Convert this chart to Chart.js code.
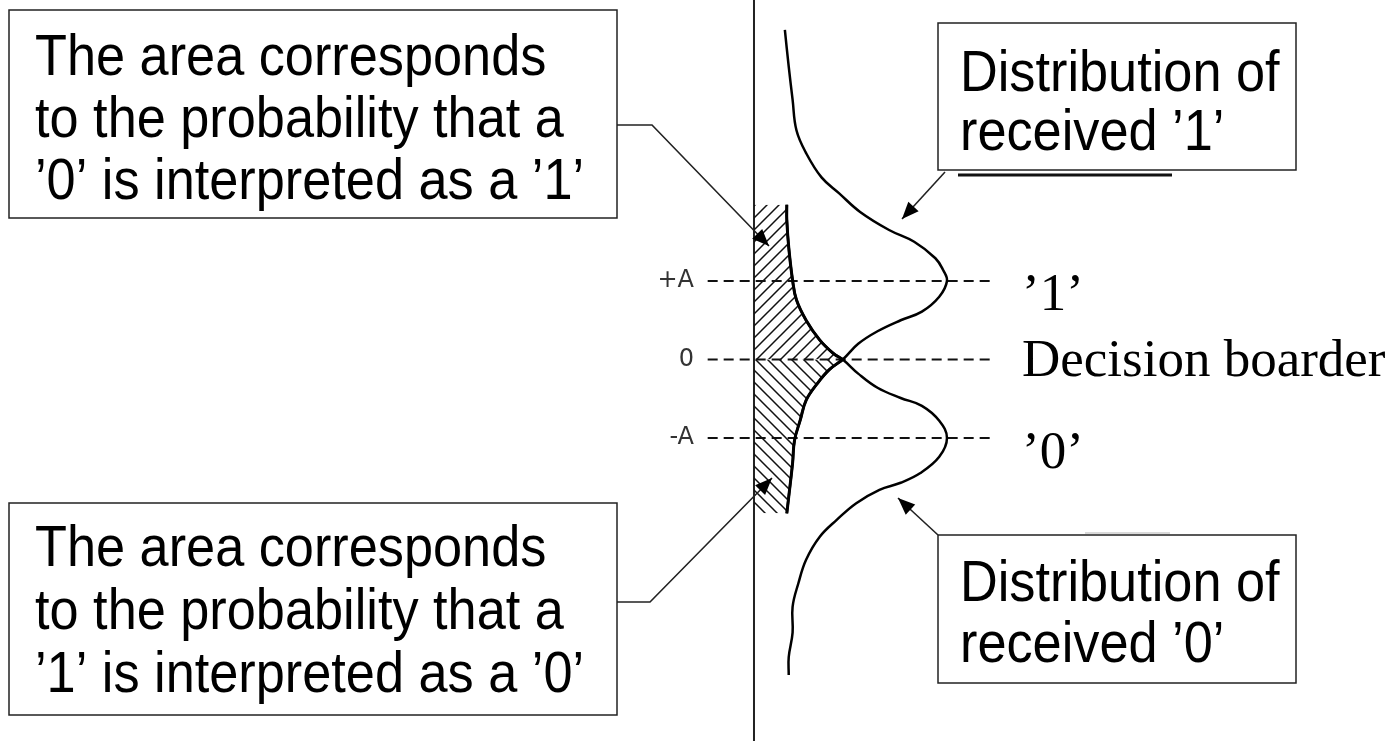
<!DOCTYPE html>
<html>
<head>
<meta charset="utf-8">
<script src="https://cdn.jsdelivr.net/npm/chart.js@4.4.1/dist/chart.umd.min.js"></script>
<style>
  html, body { margin: 0; padding: 0; background: #fff; overflow: hidden; }
</style>
</head>
<body>
<canvas id="chart" width="1392" height="741"></canvas>
<script>
// signal levels (in units of A) with their labels
const levels = [1, 0, -1];
const levelTicks = ['+A', '0', '-A'];
const levelNames = ['\u20191\u2019', 'Decision boarder', '\u20190\u2019'];
const levelSpan = [-0.24, 1.25]; // density range covered by the dashed level lines

// distribution of received '1' (amplitude, density), read top to bottom
const dist1Amp = [4.20, 3.73, 3.31, 2.92, 2.63, 2.32, 2.12, 1.88, 1.65, 1.50, 1.29, 1.14, 1.00, 0.80, 0.61, 0.50, 0.36, 0.20, 0.00,
  -0.13, -0.30, -0.52, -0.77, -1.03, -1.32, -1.75, -1.96];
const dist1Den = [0.16, 0.18, 0.20, 0.22, 0.27, 0.35, 0.44, 0.55, 0.70, 0.83, 0.94, 0.98, 1.00, 0.96, 0.87, 0.76, 0.64, 0.54, 0.46,
  0.39, 0.33, 0.27, 0.24, 0.21, 0.20, 0.18, 0.17];

// distribution of received '0'
const dist0Amp = [1.97, 1.78, 1.43, 1.01, 0.76, 0.50, 0.25, 0.08, 0.00,
  -0.18, -0.36, -0.49, -0.59, -0.78, -1.00, -1.24, -1.45, -1.57, -1.66, -1.83, -2.04, -2.26, -2.55, -2.85, -3.15, -3.48, -3.79, -4.02];
const dist0Den = [0.17, 0.17, 0.18, 0.20, 0.22, 0.27, 0.34, 0.41, 0.46,
  0.54, 0.64, 0.76, 0.87, 0.96, 1.00, 0.96, 0.86, 0.76, 0.65, 0.53, 0.43, 0.34, 0.27, 0.23, 0.20, 0.20, 0.18, 0.18];

// callout texts
const noteTop = ['The area corresponds', 'to the probability that a', '\u20190\u2019 is interpreted as a \u20191\u2019'];
const noteBottom = ['The area corresponds', 'to the probability that a', '\u20191\u2019 is interpreted as a \u20190\u2019'];
const label1 = ['Distribution of', 'received \u20191\u2019'];
const label0 = ['Distribution of', 'received \u20190\u2019'];

const pts = (amp, den) => amp.map((a, i) => ({ x: den[i], y: a }));

const canvas = document.getElementById('chart');
const ctx = canvas.getContext('2d');

function hatch(up) {
  const s = 12;
  const c = document.createElement('canvas');
  c.width = s; c.height = s;
  const g = c.getContext('2d');
  g.strokeStyle = '#111';
  g.lineWidth = 1.5;
  g.beginPath();
  if (up) {
    g.moveTo(0, s); g.lineTo(s, 0);
    g.moveTo(-2, 2); g.lineTo(2, -2);
    g.moveTo(s - 2, s + 2); g.lineTo(s + 2, s - 2);
  } else {
    g.moveTo(0, 0); g.lineTo(s, s);
    g.moveTo(-2, s - 2); g.lineTo(2, s + 2);
    g.moveTo(s - 2, -2); g.lineTo(s + 2, 2);
  }
  g.stroke();
  return ctx.createPattern(c, 'repeat');
}

const upperTail = pts(dist0Amp, dist0Den).filter(p => p.y >= 0);
const lowerTail = pts(dist1Amp, dist1Den).filter(p => p.y <= 0);

const datasets = [
  { data: upperTail, fill: 'origin', backgroundColor: hatch(true), borderColor: '#000', borderWidth: 3 },
  { data: lowerTail, fill: 'origin', backgroundColor: hatch(false), borderColor: '#000', borderWidth: 3 },
  { data: pts(dist1Amp, dist1Den), borderColor: '#000', borderWidth: 2.5 },
  { data: pts(dist0Amp, dist0Den), borderColor: '#000', borderWidth: 2.5 },
  { data: [{ x: 0, y: 4.7 }, { x: 0, y: -5 }], borderColor: '#222', borderWidth: 2, tension: 0 }
];
levels.forEach(l => datasets.push({
  data: levelSpan.map(x => ({ x: x, y: l })),
  borderColor: '#111', borderWidth: 2, borderDash: [10, 6], tension: 0
}));

function arrow(c, path) {
  c.save();
  c.strokeStyle = '#222';
  c.lineWidth = 1.6;
  c.beginPath();
  c.moveTo(path[0][0], path[0][1]);
  path.slice(1).forEach(p => c.lineTo(p[0], p[1]));
  c.stroke();
  const [x1, y1] = path[path.length - 2];
  const [x2, y2] = path[path.length - 1];
  const ang = Math.atan2(y2 - y1, x2 - x1);
  const len = 17, wid = 7;
  c.fillStyle = '#000';
  c.beginPath();
  c.moveTo(x2, y2);
  c.lineTo(x2 - len * Math.cos(ang) + wid * Math.sin(ang), y2 - len * Math.sin(ang) - wid * Math.cos(ang));
  c.lineTo(x2 - len * Math.cos(ang) - wid * Math.sin(ang), y2 - len * Math.sin(ang) + wid * Math.cos(ang));
  c.closePath();
  c.fill();
  c.restore();
}

function box(c, x, y, w, h, lines, base, step, pad) {
  c.save();
  c.fillStyle = '#fff';
  c.fillRect(x, y, w, h);
  c.strokeStyle = '#222';
  c.lineWidth = 1.5;
  c.strokeRect(x, y, w, h);
  c.fillStyle = '#000';
  c.font = '57px "Liberation Sans", Arial, sans-serif';
  c.textBaseline = 'alphabetic';
  lines.forEach((t, i) => {
    c.save();
    c.translate(x + pad, base + i * step);
    c.scale(0.917, 1);
    c.fillText(t, 0, 0);
    c.restore();
  });
  c.restore();
}

const annotations = {
  id: 'annotations',
  afterDraw(chart) {
    const c = chart.ctx;
    const xs = chart.scales.x, ys = chart.scales.y;
    const x0 = xs.getPixelForValue(0);

    // level tick labels
    c.save();
    c.fillStyle = '#333';
    c.font = '24px "DejaVu Sans", sans-serif';
    c.textAlign = 'right';
    c.textBaseline = 'middle';
    levels.forEach((l, i) => c.fillText(levelTicks[i], x0 - 60, ys.getPixelForValue(l)));

    // level names
    c.fillStyle = '#000';
    c.font = '53px "Liberation Serif", "Times New Roman", serif';
    c.textAlign = 'left';
    c.textBaseline = 'alphabetic';
    const nameOffset = [29, 16, 30];
    levels.forEach((l, i) => c.fillText(levelNames[i], 1022, ys.getPixelForValue(l) + nameOffset[i]));

    // scan remnants next to the right callouts
    c.strokeStyle = '#111';
    c.lineWidth = 3;
    c.beginPath(); c.moveTo(958, 175); c.lineTo(1172, 175); c.stroke();
    c.strokeStyle = '#ccc';
    c.lineWidth = 1.5;
    c.beginPath(); c.moveTo(1085, 533); c.lineTo(1170, 533); c.stroke();
    c.restore();

    arrow(c, [[617, 125], [652, 125], [769, 246]]);
    arrow(c, [[617, 602], [650, 602], [772, 478]]);
    arrow(c, [[945, 172], [902, 219]]);
    arrow(c, [[938, 535], [898, 498]]);

    box(c, 9, 10, 608, 208, noteTop, 75, 62, 26);
    box(c, 9, 503, 608, 212, noteBottom, 566, 63, 26);
    box(c, 938, 23, 358, 147, label1, 91, 59, 22);
    box(c, 938, 535, 358, 148, label0, 601, 61, 22);
  }
};

new Chart(canvas, {
  type: 'line',
  data: { datasets: datasets },
  options: {
    indexAxis: 'y',
    responsive: false,
    animation: false,
    devicePixelRatio: 1,
    layout: { padding: 0 },
    scales: {
      x: { type: 'linear', min: -3.907, max: 3.306, display: false },
      y: { type: 'linear', min: -4.86, max: 4.58, display: false }
    },
    elements: { point: { radius: 0 }, line: { tension: 0.4 } },
    plugins: { legend: { display: false }, tooltip: { enabled: false } }
  },
  plugins: [annotations]
});
</script>
</body>
</html>
